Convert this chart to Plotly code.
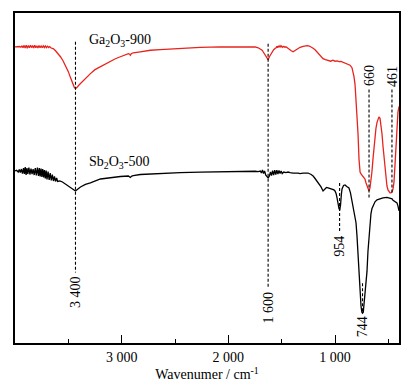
import plotly.graph_objects as go

# ---------------- data ----------------
red_wn = [4000, 3985, 3970, 3955, 3945, 3935, 3925, 3915, 3905, 3895, 3885, 3875, 3865, 3855,
          3845, 3835, 3825, 3815, 3805, 3795, 3785, 3775, 3765, 3755, 3745, 3735, 3725, 3715,
          3705, 3695, 3685, 3675, 3665, 3650, 3639, 3620, 3602, 3574, 3550, 3527, 3500, 3480,
          3461, 3445, 3433, 3420, 3400, 3386, 3340, 3293, 3250, 3199, 3150, 3106, 3059, 3012,
          2960, 2937, 2925, 2919, 2910, 2891, 2825, 2731, 2638, 2451, 2263, 2076, 1900, 1795,
          1749, 1720, 1700, 1683, 1674, 1655, 1640, 1627, 1615, 1600, 1590, 1575, 1560, 1552,
          1545, 1538, 1530, 1522, 1515, 1507, 1500, 1490, 1480, 1470, 1460, 1449, 1430, 1410,
          1393, 1380, 1365, 1346, 1327, 1299, 1270, 1261, 1240, 1224, 1205, 1187, 1168, 1149,
          1131, 1112, 1090, 1065, 1040, 1020, 1000, 981, 962, 944, 925, 906, 890, 878, 859,
          841, 831, 822, 812, 803, 794, 784, 775, 765, 756, 742, 728, 719, 709, 700, 691, 681,
          672, 663, 654, 644, 635, 625, 616, 606, 597, 588, 578, 569, 559, 550, 540, 531, 522,
          513, 503, 494, 484, 475, 465, 456, 447, 438, 428, 419, 410, 400]
red_t = [298, 298.2, 297.8, 298.3, 297.6, 298.8, 297.2, 299.4, 296.8, 299.7, 296.5, 299.3, 297, 299.6,
         297.2, 299.2, 296.7, 299.6, 297.1, 299.1, 296.8, 299.3, 297.2, 298.9, 297, 299, 297.3, 298.8,
         297.1, 298.6, 297.3, 298.2, 297, 296.8, 296, 294, 292, 288, 284, 279, 273, 267,
         261, 257.5, 256, 257, 259.5, 261, 266.5, 271, 275, 278, 281.5, 284, 286, 288,
         290, 291, 290.5, 289.5, 291, 292, 293, 294.5, 295.2, 296.5, 297.5, 298, 298.2, 298,
         297.8, 297, 296, 294.5, 293, 290, 287, 285, 288, 291, 292.5, 295, 296.5, 297,
         298.5, 297, 299, 297.5, 299, 297.8, 298.8, 297.5, 298.5, 297.5, 298, 297, 296, 294,
         293, 294, 295.5, 296.5, 297.5, 298.5, 299, 299.2, 298.8, 298, 296.5, 295, 292.5, 290,
         287.5, 286, 285, 284.5, 283.5, 284.5, 283.5, 283.8, 283, 283.3, 282.5, 282, 281, 280.5, 279.5,
         277, 273, 268, 260, 246, 228, 210, 185, 172, 170, 168.5, 167, 165, 161, 158, 155, 153,
         156, 163, 172, 185, 197, 207, 216, 222, 226, 227.5, 226, 220, 210, 198, 185, 174, 165,
         158, 154, 152, 151, 151, 152, 155, 162, 178, 200, 220, 232, 238]

black_wn = [4000, 3985, 3970, 3960, 3950, 3940, 3930, 3920, 3912, 3904, 3896, 3888, 3880, 3870,
            3860, 3850, 3840, 3830, 3820, 3810, 3800, 3790, 3780, 3772, 3764, 3756, 3748, 3740,
            3732, 3724, 3716, 3708, 3700, 3690, 3680, 3670, 3660, 3650, 3640, 3630, 3620, 3610,
            3600, 3580, 3555, 3527, 3499, 3480, 3461, 3433, 3410, 3386, 3340, 3293, 3199, 3106,
            3059, 3012, 2937, 2925, 2919, 2905, 2891, 2825, 2731, 2638, 2451, 2263, 2076, 1900,
            1795, 1749, 1720, 1700, 1690, 1680, 1670, 1660, 1650, 1640, 1627, 1615, 1605, 1595,
            1585, 1575, 1565, 1555, 1545, 1535, 1525, 1515, 1505, 1495, 1480, 1460, 1440, 1421,
            1393, 1346, 1327, 1299, 1261, 1252, 1224, 1205, 1187, 1168, 1149, 1131, 1112, 1093,
            1080, 1065, 1045, 1028, 1010, 1000, 990, 981, 972, 962, 955, 948, 940, 934, 920, 906,
            890, 869, 855, 841, 826, 812, 803, 794, 784, 775, 765, 756, 748, 742, 735, 728, 719,
            709, 700, 691, 681, 672, 663, 654, 644, 625, 606, 578, 550, 513, 494, 475, 465, 456,
            438, 419, 410, 400]
black_t = [173, 173.8, 172, 174.5, 171.5, 175, 170.5, 176, 170, 177, 169, 176, 170, 176.5,
           169.5, 175.5, 170, 175, 169, 176, 168.5, 176.5, 168, 176, 167.5, 175.5, 167, 175,
           166.5, 174, 165.5, 173.5, 164.5, 172.5, 164, 171, 163.5, 169.5, 163, 167.5, 162.5, 166,
           162.5, 163, 162, 160, 158, 156, 154.5, 153, 155, 157, 159.5, 161, 165, 166.5,
           167, 167.5, 168, 167.5, 166.5, 168, 168.5, 169.5, 170, 171, 171.5, 172, 172.5, 172.8,
           173, 172.8, 172.5, 173, 171, 174, 170.5, 173, 169, 168, 166, 168, 172, 168.5,
           173.5, 169, 174, 169.5, 174, 170, 173.5, 170.5, 173, 170.5, 172, 171.5, 172, 171.5,
           171, 171, 170.5, 171, 171.5, 171, 169.5, 168, 165.5, 163, 160, 157, 153, 155,
           156.5, 156, 155.5, 155, 154, 153, 150.5, 146, 140, 135, 134.5, 139, 150, 155, 158.5, 159,
           157.5, 156, 151, 143, 136, 130, 121, 108, 88, 68, 50, 37, 31, 30, 31, 38, 48,
           60, 72, 92, 110, 121, 130, 135, 138, 142, 144, 145, 146, 146.5, 146, 145.5, 145, 143.5,
           142.5, 141, 138, 133]

peak_pos = [3433, 1627, 957, 742, 681, 466]
peak_labels = ["3 400", "1 600", "954", "744", "660", "461"]
peak_y0 = [303, 301, 161, 60, 255, 255]
peak_y1 = [71, 55, 111, 30, 145, 150]
label_side = ["below", "below", "below", "below", "above", "above"]

tick_vals = [3000, 2000, 1000]
tick_text = ["3 000", "2 000", "1 000"]
minor_vals = [3500, 2500, 1500, 500]

series_names = ["Ga<sub>2</sub>O<sub>3</sub>-900", "Sb<sub>2</sub>O<sub>3</sub>-500"]
name_pos = [(3321, 304), (3321, 182)]

# ---------------- figure ----------------
FONT = "Liberation Serif, Times New Roman, serif"
fig = go.Figure()
fig.add_trace(go.Scatter(x=red_wn, y=red_t, mode="lines",
                         line=dict(color="#e8231d", width=1.3), hoverinfo="skip"))
fig.add_trace(go.Scatter(x=black_wn, y=black_t, mode="lines",
                         line=dict(color="#000000", width=1.3), hoverinfo="skip"))

for p, lab, y0, y1, side in zip(peak_pos, peak_labels, peak_y0, peak_y1, label_side):
    fig.add_shape(type="line", xref="x", yref="y", x0=p, x1=p, y0=y0, y1=y1,
                  line=dict(color="black", width=1.1, dash="3px,2px"))
    if side == "below":
        fig.add_annotation(x=p, y=min(y0, y1) - 1, text=lab, showarrow=False, textangle=-90,
                           xanchor="center", yanchor="top",
                           font=dict(family=FONT, size=14, color="black"))
    else:
        fig.add_annotation(x=p, y=max(y0, y1) + 1, text=lab, showarrow=False, textangle=-90,
                           xanchor="center", yanchor="bottom",
                           font=dict(family=FONT, size=14, color="black"))

for name, (nx, ny) in zip(series_names, name_pos):
    fig.add_annotation(x=nx, y=ny, text=name, showarrow=False, xanchor="left", yanchor="middle",
                       font=dict(family=FONT, size=14, color="black"))

fig.update_layout(
    width=413, height=390,
    margin=dict(l=15, r=14, t=11, b=47),
    paper_bgcolor="white", plot_bgcolor="white",
    showlegend=False,
    font=dict(family=FONT, size=14, color="black"),
    xaxis=dict(range=[4000, 400], showgrid=False, zeroline=False,
               showline=True, mirror=True, linecolor="black", linewidth=1.5,
               ticks="inside", ticklen=8, tickwidth=1.2, tickcolor="black",
               tickmode="array", tickvals=tick_vals, ticktext=tick_text,
               tickfont=dict(family=FONT, size=14, color="black"),
               minor=dict(tickmode="array", tickvals=minor_vals, ticks="inside",
                          ticklen=4, tickwidth=1.2, tickcolor="black", showgrid=False),
               title=dict(text="Wavenumer / cm<sup>-1</sup>", standoff=4,
                          font=dict(family=FONT, size=14, color="black"))),
    yaxis=dict(range=[0, 332], showgrid=False, zeroline=False,
               showline=True, mirror=True, linecolor="black", linewidth=1.5,
               ticks="", showticklabels=False),
)

fig.write_html("out.html", config={"displayModeBar": False},
               post_script="document.body.style.margin='0';")
